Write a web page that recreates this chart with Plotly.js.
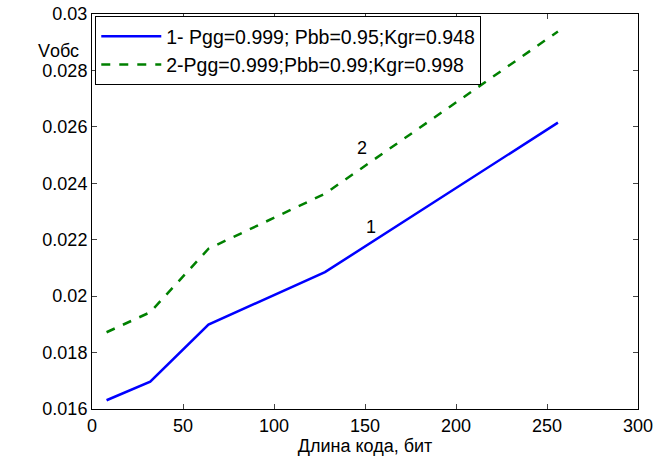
<!DOCTYPE html>
<html>
<head>
<meta charset="utf-8">
<script src="https://cdn.plot.ly/plotly-3.0.1.min.js"></script>
<style>html,body{margin:0;padding:0;background:#fff;}#chart{width:654px;height:459px;}</style>
</head>
<body>
<div id="chart"></div>
<script>
var codeLength = [8, 32, 64, 128, 256];
var series1 = [0.01631, 0.01697, 0.01899, 0.02085, 0.02615];
var series2 = [0.01872, 0.01943, 0.02168, 0.02363, 0.02938];
var name1 = '1- Pgg=0.999; Pbb=0.95;Kgr=0.948';
var name2 = '2-Pgg=0.999;Pbb=0.99;Kgr=0.998';
var xTicks = [0, 50, 100, 150, 200, 250, 300];
var yTicks = [0.016, 0.018, 0.02, 0.022, 0.024, 0.026, 0.028, 0.03];
var yTickText = ['0.016', '0.018', '0.02', '0.022', '0.024', '0.026', '0.028', '0.03'];

var font = {family: 'Liberation Sans, Arial, sans-serif', size: 18, color: '#000'};
var legendFont = {family: 'Liberation Sans, Arial, sans-serif', size: 19.5, color: '#000'};

var traces = [
  {x: codeLength, y: series1, mode: 'lines', name: name1,
   line: {color: '#0000ff', width: 2.5}},
  {x: codeLength, y: series2, mode: 'lines', name: name2,
   line: {color: '#008000', width: 2.5, dash: 'dash'}}
];

var layout = {
  width: 654, height: 459,
  margin: {l: 92, r: 16, t: 14, b: 50},
  paper_bgcolor: '#fff', plot_bgcolor: '#fff',
  font: font,
  showlegend: true,
  legend: {x: 0.006, y: 0.995, xanchor: 'left', yanchor: 'top',
           bordercolor: '#000', borderwidth: 1, bgcolor: '#fff',
           font: legendFont, traceorder: 'normal', itemwidth: 60},
  xaxis: {range: [0, 300], tickvals: xTicks, ticks: 'inside', ticklen: 5,
          showline: true, linecolor: '#000', linewidth: 1, mirror: 'ticks',
          showgrid: false, zeroline: false, tickfont: font,
          title: {text: 'Длина кода, бит', font: font, standoff: 4}},
  yaxis: {range: [0.016, 0.03], tickvals: yTicks, ticktext: yTickText, ticks: 'inside', ticklen: 5,
          showline: true, linecolor: '#000', linewidth: 1, mirror: 'ticks',
          showgrid: false, zeroline: false, tickfont: font},
  annotations: [
    {x: 148.2, y: 0.02524, xref: 'x', yref: 'y', text: '2', showarrow: false, font: font},
    {x: 153.1, y: 0.02245, xref: 'x', yref: 'y', text: '1', showarrow: false, font: font},
    {x: (35.5 - 92) / 546, y: 1 - (39 - 14) / 395, xref: 'paper', yref: 'paper',
     text: 'Vобс', showarrow: false, font: font}
  ]
};

Plotly.newPlot('chart', traces, layout, {staticPlot: true});
</script>
</body>
</html>
